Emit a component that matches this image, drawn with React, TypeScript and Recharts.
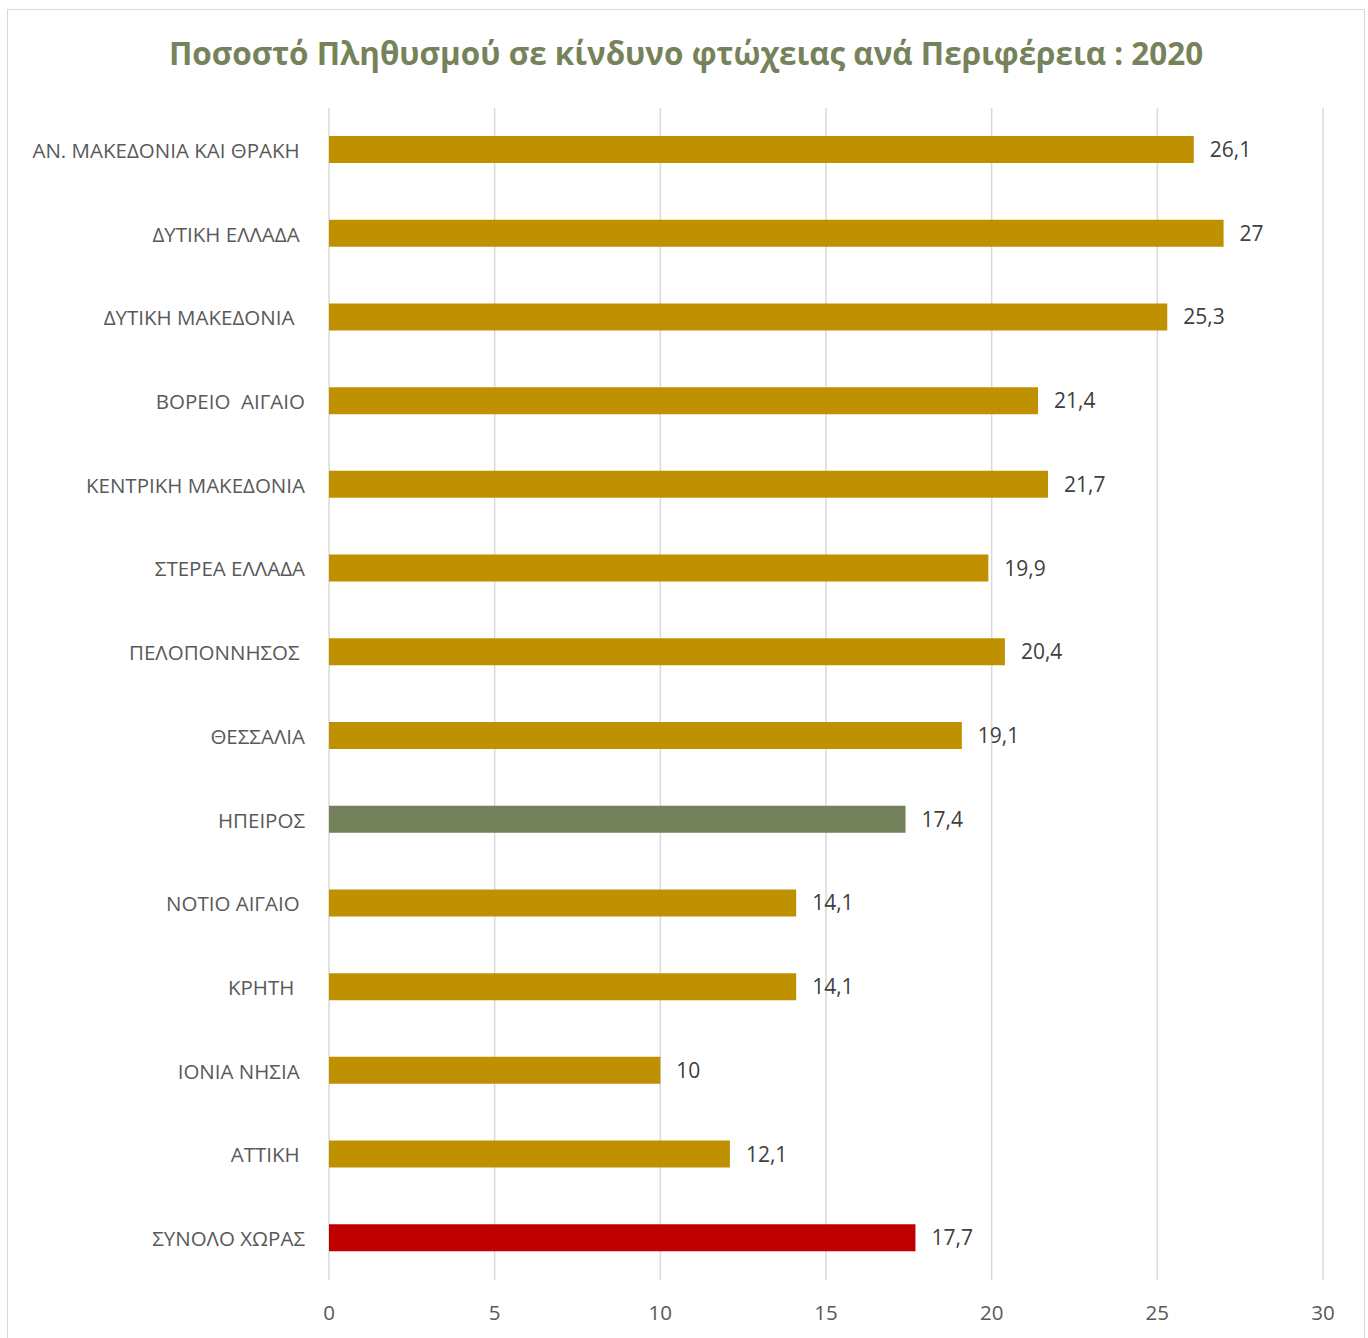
import { BarChart, Bar, XAxis, YAxis, CartesianGrid, Cell, LabelList } from 'recharts';

// περιφέρειες (με τα κενά όπως στο πρωτότυπο)
const regions = [
  'ΑΝ. ΜΑΚΕΔΟΝΙΑ ΚΑΙ ΘΡΑΚΗ ',
  'ΔΥΤΙΚΗ ΕΛΛΑΔΑ ',
  'ΔΥΤΙΚΗ ΜΑΚΕΔΟΝΙΑ  ',
  'ΒΟΡΕΙΟ  ΑΙΓΑΙΟ',
  'ΚΕΝΤΡΙΚΗ ΜΑΚΕΔΟΝΙΑ',
  'ΣΤΕΡΕΑ ΕΛΛΑΔΑ',
  'ΠΕΛΟΠΟΝΝΗΣΟΣ ',
  'ΘΕΣΣΑΛΙΑ',
  'ΗΠΕΙΡΟΣ',
  'ΝΟΤΙΟ ΑΙΓΑΙΟ ',
  'ΚΡΗΤΗ  ',
  'ΙΟΝΙΑ ΝΗΣΙΑ ',
  'ΑΤΤΙΚΗ ',
  'ΣΥΝΟΛΟ ΧΩΡΑΣ',
];

const povertyRate = [26.1, 27, 25.3, 21.4, 21.7, 19.9, 20.4, 19.1, 17.4, 14.1, 14.1, 10, 12.1, 17.7];

const xTicks = [0, 5, 10, 15, 20, 25, 30];

const data = regions.map((region, i) => ({ region, value: povertyRate[i] }));

const FONT = '"Open Sans", "Noto Sans", sans-serif';

function barColor(region: string) {
  const name = region.trim();
  if (name === 'ΗΠΕΙΡΟΣ') return '#738059';
  if (name === 'ΣΥΝΟΛΟ ΧΩΡΑΣ') return '#C00000';
  return '#BF9000';
}

function RegionTick({ x, y, payload }: any) {
  return (
    <text
      x={x - 16}
      y={y}
      textAnchor="end"
      dominantBaseline="central"
      xmlSpace="preserve"
      style={{ whiteSpace: 'pre' }}
      fill="#595959"
      fontSize={20.5}
      fontFamily={FONT}
    >
      {payload.value}
    </text>
  );
}

function ValueTick({ x, y, payload }: any) {
  return (
    <text
      x={x}
      y={y + 24}
      textAnchor="middle"
      dominantBaseline="central"
      fill="#595959"
      fontSize={20.5}
      fontFamily={FONT}
    >
      {payload.value}
    </text>
  );
}

export default function App() {
  return (
    <div style={{ position: 'relative', width: 1368, height: 1338, background: '#fff', overflow: 'hidden' }}>
      <style>{'body{margin:0}'}</style>
      <div
        style={{
          position: 'absolute',
          left: 7,
          top: 9,
          width: 1356,
          height: 1340,
          border: '1px solid #D9D9D9',
        }}
      />
      <div
        style={{
          position: 'absolute',
          left: 0,
          top: 32,
          width: 1372,
          textAlign: 'center',
          fontFamily: FONT,
          fontWeight: 700,
          fontSize: 31.4,
          lineHeight: '42px',
          color: '#76835A',
        }}
      >
        Ποσοστό Πληθυσμού σε κίνδυνο φτώχειας ανά Περιφέρεια : 2020
      </div>
      <div style={{ position: 'absolute', left: 0, top: 0 }}>
        <BarChart
          width={1368}
          height={1338}
          data={data}
          layout="vertical"
          margin={{ top: 108, right: 45, bottom: 26, left: 0 }}
          barSize={27}
        >
          <CartesianGrid horizontal={false} stroke="#D9D9D9" strokeWidth={1.5} />
          <XAxis
            type="number"
            domain={[0, 30]}
            ticks={xTicks}
            axisLine={false}
            tickLine={false}
            height={32}
            tick={<ValueTick />}
            interval={0}
          />
          <YAxis
            type="category"
            dataKey="region"
            width={329}
            axisLine={false}
            tickLine={false}
            tick={<RegionTick />}
            interval={0}
          />
          <Bar dataKey="value" isAnimationActive={false}>
            {data.map((d) => (
              <Cell key={d.region} fill={barColor(d.region)} />
            ))}
            <LabelList
              dataKey="value"
              position="right"
              offset={16}
              fill="#404040"
              fontSize={21}
              fontFamily={FONT}
              formatter={(v: any) => String(v).replace('.', ',')}
            />
          </Bar>
        </BarChart>
      </div>
    </div>
  );
}
